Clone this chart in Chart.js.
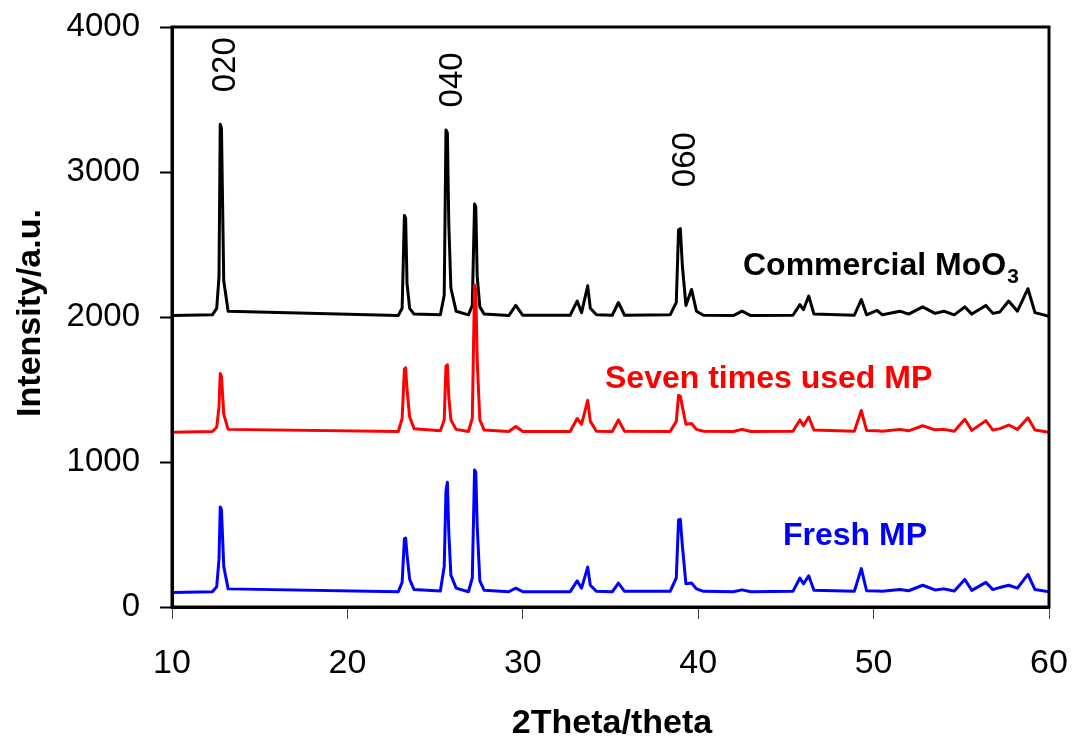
<!DOCTYPE html>
<html>
<head>
<meta charset="utf-8">
<script src="https://cdn.jsdelivr.net/npm/chart.js@4.4.1/dist/chart.umd.min.js"></script>
<style>
  html, body { margin: 0; padding: 0; background: #fff; }
  #wrap { width: 1073px; height: 737px; }
</style>
</head>
<body>
<div id="wrap"><canvas id="xrdChart" width="1073" height="737"></canvas></div>
<script>
// 2theta positions (deg) shared by the three patterns
const theta = [
  10, 12.3, 12.55, 12.68, 12.75, 12.82, 12.95, 13.2,
  22.9, 23.12, 23.25, 23.32, 23.4, 23.55, 23.8,
  25.3, 25.52, 25.62, 25.7, 25.78, 25.9, 26.2,
  26.9, 27.12, 27.25, 27.32, 27.4, 27.55, 27.8,
  29.2, 29.6, 30.0,
  32.7, 33.1, 33.35, 33.7, 33.85, 34.2,
  35.1, 35.45, 35.8,
  38.4, 38.75, 38.88, 38.98, 39.1, 39.3, 39.62, 39.9, 40.3,
  42.0, 42.5, 43.0,
  45.4, 45.8, 46.0, 46.3, 46.6,
  48.9, 49.3, 49.6,
  50.2, 50.5, 51.5, 52.0, 52.8, 53.5, 54.0, 54.6, 55.2, 55.6, 56.4, 56.8, 57.2, 57.7, 58.2, 58.8, 59.2, 60
];

const commercial = [
  2010, 2015, 2060, 2280, 3330, 3300, 2250, 2040,
  2010, 2060, 2700, 2680, 2230, 2060, 2020,
  2015, 2150, 3290, 3270, 2650, 2200, 2040,
  2015, 2080, 2780, 2760, 2280, 2070, 2020,
  2010, 2080, 2012,
  2012, 2110, 2030, 2215, 2060, 2015,
  2012, 2100, 2012,
  2015, 2100, 2600, 2610, 2350, 2080, 2190, 2040, 2012,
  2010, 2040, 2010,
  2012, 2085, 2050, 2145, 2020,
  2012, 2120, 2015,
  2045, 2015, 2040, 2020, 2070, 2025, 2040, 2015, 2070, 2020, 2080, 2025, 2035, 2110, 2040, 2195, 2030, 2005
];

const sevenTimes = [
  1205, 1210, 1240, 1380, 1610, 1590, 1330, 1225,
  1210, 1300, 1640, 1650, 1500, 1310, 1230,
  1215, 1290, 1660, 1670, 1450, 1290, 1225,
  1210, 1300, 2220, 2190, 1700, 1290, 1220,
  1210, 1245, 1210,
  1210, 1300, 1260, 1425, 1280, 1212,
  1210, 1290, 1212,
  1210, 1280, 1460, 1455, 1380, 1260, 1265, 1225, 1212,
  1210, 1225, 1210,
  1212, 1290, 1250, 1310, 1220,
  1212, 1355, 1218,
  1215, 1212, 1225, 1215, 1250, 1222, 1225, 1212, 1295, 1218, 1285, 1220, 1230, 1255, 1225, 1305, 1220, 1205
];

const fresh = [
  100, 105, 140, 330, 690, 670, 280, 125,
  105, 170, 470, 475, 360, 190, 120,
  110, 280, 800, 860, 520, 220, 130,
  105, 200, 945, 930, 560, 180, 115,
  105, 130, 105,
  105, 180, 130, 275, 150, 108,
  105, 165, 108,
  108, 200, 600, 605, 420, 160, 165, 125, 108,
  105, 118, 105,
  108, 200, 160, 215, 115,
  108, 265, 112,
  110, 108, 120, 112, 150, 118, 125, 110, 190, 115, 170, 120, 135, 150, 130, 225, 120, 105
];

const xTicks = [10, 20, 30, 40, 50, 60];
const yTicks = [0, 1000, 2000, 3000, 4000];

const hklNames = ['020', '040', '060'];
const hklTheta = [12.75, 25.7, 38.95];

const FONT = "'Liberation Sans', Arial, Helvetica, sans-serif";

const toPoints = ys => theta.map((t, i) => ({ x: t, y: ys[i] }));

// axis titles, frame, reflection indices and pattern names
const xrdText = {
  id: 'xrdText',
  afterDraw(chart) {
    const { ctx, chartArea: a, scales: { x, y } } = chart;
    ctx.save();

    ctx.strokeStyle = '#000';
    ctx.lineWidth = 3;
    ctx.strokeRect(a.left, a.top, a.right - a.left, a.bottom - a.top);

    ctx.fillStyle = '#000';
    ctx.font = `bold 34px ${FONT}`;
    ctx.textAlign = 'center';
    ctx.textBaseline = 'alphabetic';
    ctx.fillText('2Theta/theta', 612, 733);

    ctx.save();
    ctx.translate(40, 313);
    ctx.rotate(-Math.PI / 2);
    ctx.fillText('Intensity/a.u.', 0, 0);
    ctx.restore();

    // reflection indices above the MoO3 peaks
    const hklY = [3740, 3635, 3085];
    ctx.font = `33px ${FONT}`;
    ctx.textBaseline = 'middle';
    hklNames.forEach((name, i) => {
      ctx.save();
      ctx.translate(x.getPixelForValue(hklTheta[i]) + 6, y.getPixelForValue(hklY[i]));
      ctx.rotate(-Math.PI / 2);
      ctx.fillText(name, 0, 0);
      ctx.restore();
    });

    ctx.textAlign = 'left';
    ctx.textBaseline = 'alphabetic';
    ctx.font = `bold 32px ${FONT}`;
    ctx.fillStyle = '#000';
    ctx.fillText('Commercial MoO', 743, 275);
    const w = ctx.measureText('Commercial MoO').width;
    ctx.font = `bold 21px ${FONT}`;
    ctx.fillText('3', 743 + w + 1, 283);

    ctx.font = `bold 32px ${FONT}`;
    ctx.fillStyle = '#ff0000';
    ctx.fillText('Seven times used MP', 605, 388);
    ctx.fillStyle = '#0000ff';
    ctx.fillText('Fresh MP', 783, 545);

    ctx.restore();
  }
};

new Chart(document.getElementById('xrdChart'), {
  type: 'line',
  data: {
    datasets: [
      { label: 'Seven times used MP', data: toPoints(sevenTimes), borderColor: '#ff0000' },
      { label: 'Commercial MoO3', data: toPoints(commercial), borderColor: '#000000' },
      { label: 'Fresh MP', data: toPoints(fresh), borderColor: '#0000ff' }
    ]
  },
  options: {
    responsive: false,
    animation: false,
    layout: { padding: { top: 27, right: 24, left: 0, bottom: 0 } },
    elements: {
      line: { borderWidth: 3, tension: 0, fill: false, borderJoinStyle: 'round', borderCapStyle: 'round' },
      point: { radius: 0, hoverRadius: 0 }
    },
    plugins: {
      legend: { display: false },
      tooltip: { enabled: false }
    },
    scales: {
      x: {
        type: 'linear',
        min: 10,
        max: 60,
        afterBuildTicks: s => { s.ticks = xTicks.map(v => ({ value: v })); },
        afterFit: s => { s.height = 130; s.paddingLeft = 0; s.paddingRight = 0; },
        grid: { drawOnChartArea: false, drawTicks: true, tickLength: 12, tickWidth: 1, tickColor: '#444' },
        border: { color: '#000', width: 3 },
        ticks: { color: '#000', font: { family: FONT, size: 34 }, padding: 24, maxRotation: 0, autoSkip: false,
                 callback: v => String(v) }
      },
      y: {
        min: 0,
        max: 4000,
        afterBuildTicks: s => { s.ticks = yTicks.map(v => ({ value: v })); },
        afterFit: s => { s.width = 172; s.paddingTop = 0; s.paddingBottom = 0; },
        grid: { drawOnChartArea: false, drawTicks: true, tickLength: 12, tickWidth: 2, tickColor: '#000' },
        border: { color: '#000', width: 3 },
        ticks: { color: '#000', font: { family: FONT, size: 33 }, padding: 20, callback: v => String(v) }
      }
    }
  },
  plugins: [xrdText]
});
</script>
</body>
</html>
